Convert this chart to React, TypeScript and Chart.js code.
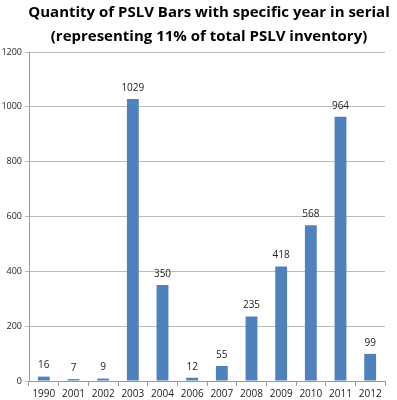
import React, { useEffect, useRef } from "react";
import { Chart, registerables } from "chart.js";

Chart.register(...registerables);

const categories = ["1990", "2001", "2002", "2003", "2004", "2006", "2007", "2008", "2009", "2010", "2011", "2012"];
const quantities = [16, 7, 9, 1029, 350, 12, 55, 235, 418, 568, 964, 99];
const titleLines = ["Quantity of PSLV Bars with specific year in serial", "(representing 11% of total PSLV inventory)"];

const FONT = "'Open Sans', 'Noto Sans', sans-serif";

const valueLabels = {
  id: "valueLabels",
  afterDatasetsDraw(chart: any) {
    const ctx = chart.ctx;
    const meta = chart.getDatasetMeta(0);
    ctx.save();
    ctx.font = `10px ${FONT}`;
    ctx.fillStyle = "#222";
    ctx.textAlign = "center";
    ctx.textBaseline = "bottom";
    meta.data.forEach((bar: any, i: number) => {
      ctx.fillText(String(quantities[i]), bar.x, bar.y - 6);
    });
    ctx.restore();
  },
};

// Title drawn centred over the plot area (Excel-style), the built-in title only reserves the space.
const centredTitle = {
  id: "centredTitle",
  afterDraw(chart: any) {
    const ctx = chart.ctx;
    const t = chart.titleBlock;
    const area = chart.chartArea;
    const cx = (area.left + area.right) / 2 + 2;
    ctx.save();
    ctx.font = `bold 15px ${FONT}`;
    ctx.fillStyle = "#000";
    ctx.textAlign = "center";
    ctx.textBaseline = "middle";
    const lh = 24;
    const top = t.top + 1;
    titleLines.forEach((line, i) => {
      ctx.fillText(line, cx, top + lh * i + lh / 2);
    });
    ctx.restore();
  },
};

export default function App() {
  const ref = useRef<HTMLCanvasElement>(null);
  useEffect(() => {
    document.body.style.margin = "0";
    const chart = new Chart(ref.current!, {
      type: "bar",
      data: {
        labels: categories,
        datasets: [
          {
            data: quantities,
            backgroundColor: "#4F81BD",
            barPercentage: 0.4,
            categoryPercentage: 1,
          },
        ],
      },
      options: {
        responsive: false,
        animation: false,
        layout: { padding: { left: 0, right: 12, top: 0, bottom: 0 } },
        plugins: {
          legend: { display: false },
          tooltip: { enabled: false },
          title: {
            display: true,
            text: titleLines,
            color: "rgba(0,0,0,0)",
            font: { family: FONT, size: 15, weight: "bold", lineHeight: 1.6 },
            padding: { top: 1, bottom: 3 },
          },
        },
        scales: {
          x: {
            grid: {
              display: true,
              drawOnChartArea: false,
              offset: true,
              tickLength: 5,
              color: "#999",
            },
            border: { color: "#999" },
            ticks: { color: "#222", font: { family: FONT, size: 10 }, padding: 2, maxRotation: 0, autoSkip: false },
            afterFit(scale: any) {
              scale.height = 19;
            },
          },
          y: {
            min: 0,
            max: 1200,
            ticks: {
              stepSize: 200,
              color: "#222",
              font: { family: FONT, size: 9 },
              padding: 3,
              callback: (v: any) => String(v),
            },
            grid: { color: "#bbb", tickLength: 4 },
            border: { color: "#999" },
            afterFit(scale: any) {
              scale.width = 29;
            },
          },
        },
      },
      plugins: [valueLabels, centredTitle],
    });
    return () => chart.destroy();
  }, []);
  return <canvas ref={ref} width={397} height={400} style={{ display: "block" }} />;
}
